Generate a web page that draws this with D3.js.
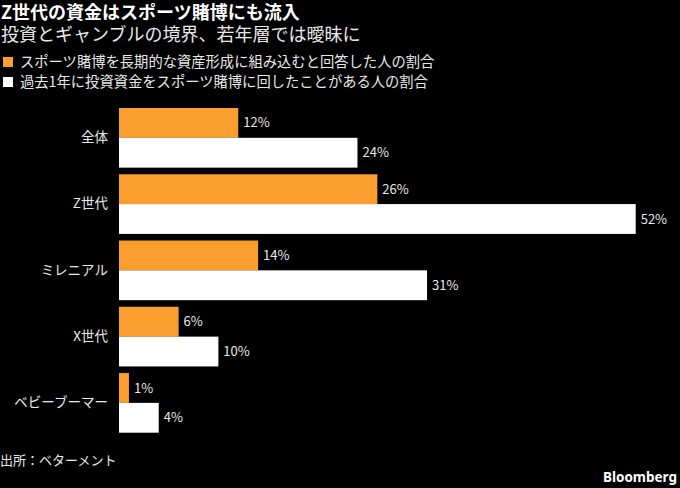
<!DOCTYPE html>
<html>
<head>
<meta charset="utf-8">
<script src="https://cdn.jsdelivr.net/npm/d3@7"></script>
<style>
  html, body { margin: 0; padding: 0; background: #000; }
  text { font-family: "Noto Sans CJK JP", "Noto Sans", sans-serif; }
</style>
</head>
<body>
<div id="chart"></div>
<script>
// --- Data ---
const categories = ['全体', 'Z世代', 'ミレニアル', 'X世代', 'ベビーブーマー'];
const longTermShare = [12, 26, 14, 6, 1];
const investedShare = [24, 52, 31, 10, 4];
const seriesNames = [
  'スポーツ賭博を長期的な資産形成に組み込むと回答した人の割合',
  '過去1年に投資資金をスポーツ賭博に回したことがある人の割合'
];
const seriesColors = ['#fa9f2f', '#ffffff'];

// --- Layout ---
const width = 680;
const height = 488;
const textColor = '#e8e8e8';

const svg = d3.select('#chart').append('svg')
    .attr('width', width)
    .attr('height', height)
    .style('background', '#000');

// title + subtitle
svg.append('text')
    .attr('x', 1).attr('y', 19)
    .attr('fill', '#fff')
    .attr('font-size', 18)
    .attr('font-weight', 'bold')
    .text('Z世代の資金はスポーツ賭博にも流入');

svg.append('text')
    .attr('x', 1).attr('y', 41)
    .attr('fill', textColor)
    .attr('font-size', 18)
    .text('投資とギャンブルの境界、若年層では曖昧に');

// legend
const legend = svg.append('g').selectAll('g')
    .data(seriesNames)
    .join('g')
    .attr('transform', (d, i) => `translate(0, ${62 + i * 20})`);

legend.append('rect')
    .attr('x', 3).attr('y', -5)
    .attr('width', 10).attr('height', 10)
    .attr('fill', (d, i) => seriesColors[i]);

legend.append('text')
    .attr('x', 20).attr('y', 0)
    .attr('dy', '0.35em')
    .attr('fill', textColor)
    .attr('font-size', 14.3)
    .text(d => d);

// --- Scales ---
const x = d3.scaleLinear()
    .domain([0, 52])
    .range([119, 635.7]);

const y = d3.scaleBand()
    .domain(categories)
    .range([108, 432.7])
    .paddingInner(0.1)
    .paddingOuter(0);

const ySub = d3.scaleBand()
    .domain([0, 1])
    .range([0, y.bandwidth()]);

const rows = categories.map((c, i) => ({ cat: c, values: [longTermShare[i], investedShare[i]] }));

const groups = svg.append('g').selectAll('g')
    .data(rows)
    .join('g')
    .attr('transform', d => `translate(0, ${y(d.cat)})`);

groups.selectAll('rect')
    .data(d => d.values)
    .join('rect')
    .attr('x', x(0))
    .attr('y', (d, i) => ySub(i))
    .attr('width', d => x(d) - x(0))
    .attr('height', ySub.bandwidth())
    .attr('fill', (d, i) => seriesColors[i]);

groups.selectAll('text.val')
    .data(d => d.values)
    .join('text')
    .attr('class', 'val')
    .attr('x', d => x(d) + 5)
    .attr('y', (d, i) => ySub(i) + ySub.bandwidth() / 2)
    .attr('dy', '0.35em')
    .attr('fill', textColor)
    .attr('font-size', 13)
    .text(d => d + '%');

// category axis (labels only)
const yAxis = svg.append('g')
    .attr('transform', `translate(${x(0)}, 0)`)
    .call(d3.axisLeft(y).tickSize(0).tickPadding(11));

yAxis.select('.domain').remove();
yAxis.selectAll('text')
    .attr('fill', textColor)
    .attr('font-size', 13.5)
    .style('font-family', '"Noto Sans CJK JP", sans-serif');

// --- Footer ---
svg.append('text')
    .attr('x', 0).attr('y', 465)
    .attr('fill', textColor)
    .attr('font-size', 13)
    .text('出所：ベターメント');

svg.append('text')
    .attr('x', 677).attr('y', 482)
    .attr('text-anchor', 'end')
    .attr('fill', '#fff')
    .attr('font-size', 13.5)
    .attr('font-weight', 'bold')
    .style('font-family', '"Noto Sans", sans-serif')
    .text('Bloomberg');
</script>
</body>
</html>
